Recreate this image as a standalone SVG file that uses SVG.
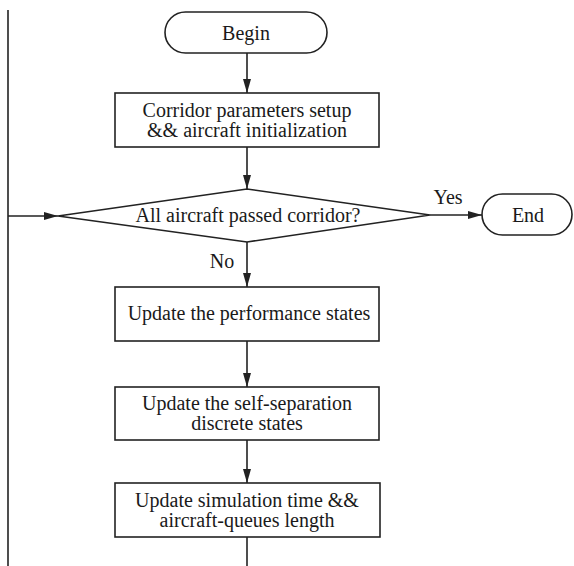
<svg xmlns="http://www.w3.org/2000/svg" width="574" height="566" viewBox="0 0 574 566">
<style>
.s{fill:#fff;stroke:#222;stroke-width:1.6}
.c{fill:none;stroke:#222;stroke-width:1.6}
text{font-family:"Liberation Serif","Times New Roman",serif;font-size:20px;fill:#1a1a1a;text-anchor:middle}
</style>
<defs>
<marker id="ah" viewBox="0 0 14 8" refX="14" refY="4" markerWidth="14" markerHeight="8" markerUnits="userSpaceOnUse" orient="auto">
<path d="M0,0 L14,4 L0,8 Z" fill="#222"/>
</marker>
</defs>
<rect width="574" height="566" fill="#fff"/>
<g id="connectors">
<line class="c" x1="247" y1="53" x2="247" y2="93" marker-end="url(#ah)"/>
<line class="c" x1="247" y1="147" x2="247" y2="189" marker-end="url(#ah)"/>
<line class="c" x1="247" y1="242" x2="247" y2="287" marker-end="url(#ah)"/>
<line class="c" x1="247" y1="341" x2="247" y2="387" marker-end="url(#ah)"/>
<line class="c" x1="247" y1="440" x2="247" y2="483" marker-end="url(#ah)"/>
<line class="c" x1="247" y1="537" x2="247" y2="566"/>
<line class="c" x1="430" y1="215" x2="482" y2="215" marker-end="url(#ah)"/>
<line class="c" x1="8" y1="10" x2="8" y2="566"/>
<line class="c" x1="8" y1="216" x2="58" y2="216" marker-end="url(#ah)"/>
<text x="448" y="204">Yes</text>
<text x="222" y="268">No</text>
</g>
<g id="begin">
<rect class="s" x="165" y="12" width="162" height="41" rx="20.5"/>
<text x="246" y="40">Begin</text>
</g>
<g id="setup">
<rect class="s" x="115" y="93" width="264" height="54"/>
<text x="247" y="117">Corridor parameters setup</text>
<text x="247" y="137">&amp;&amp; aircraft initialization</text>
</g>
<g id="decision">
<polygon class="s" points="58,216 247,189 430,215 247,242"/>
<text x="248" y="222">All aircraft passed corridor?</text>
</g>
<g id="end">
<rect class="s" x="482" y="194" width="90" height="41" rx="20.5"/>
<text x="528" y="222">End</text>
</g>
<g id="performance">
<rect class="s" x="115" y="287" width="264" height="54"/>
<text x="249" y="320">Update the performance states</text>
</g>
<g id="separation">
<rect class="s" x="115" y="387" width="264" height="53"/>
<text x="247" y="410">Update the self-separation</text>
<text x="247" y="430">discrete states</text>
</g>
<g id="time">
<rect class="s" x="115" y="483" width="265" height="54"/>
<text x="247" y="507">Update simulation time &amp;&amp;</text>
<text x="247" y="527">aircraft-queues length</text>
</g>
</svg>
